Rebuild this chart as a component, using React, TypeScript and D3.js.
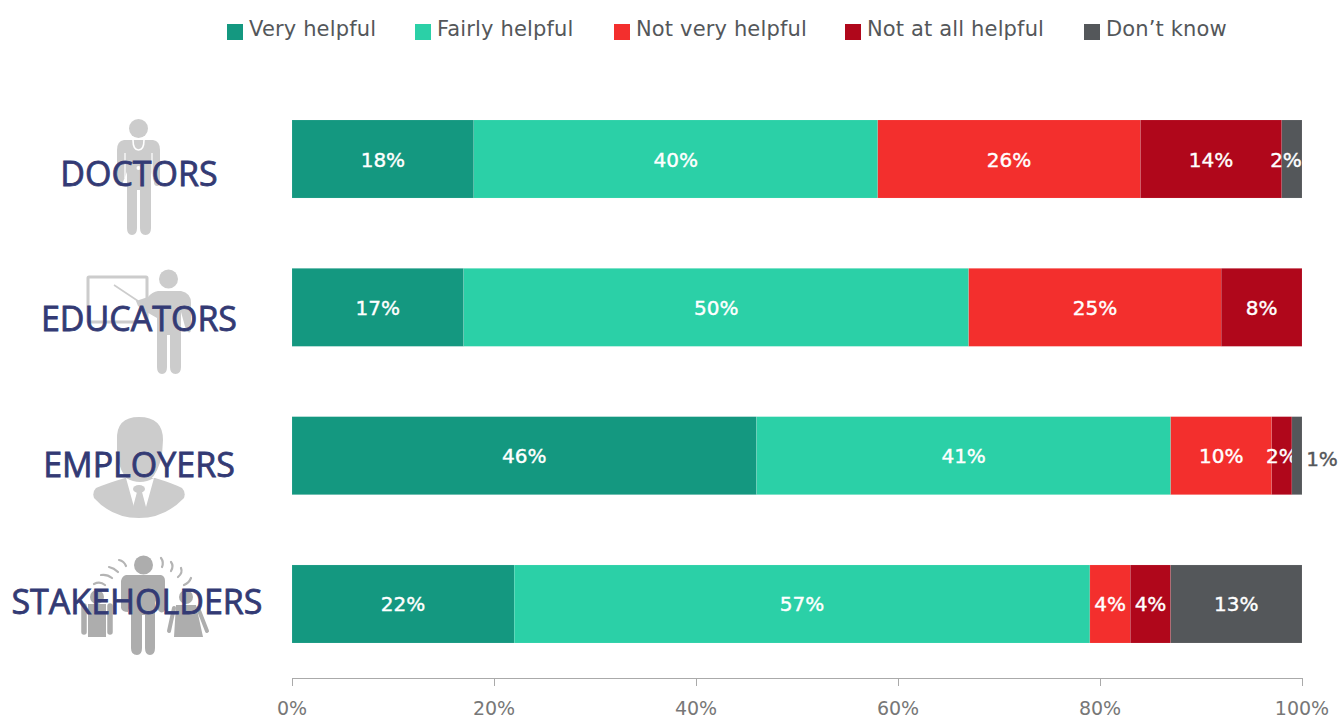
import React from "react";
import * as d3 from "d3";

const categories = ["DOCTORS", "EDUCATORS", "EMPLOYERS", "STAKEHOLDERS"];
const seriesNames = ["Very helpful", "Fairly helpful", "Not very helpful", "Not at all helpful", "Don\u2019t know"];
const veryHelpful = [18, 17, 46, 22];
const fairlyHelpful = [40, 50, 41, 57];
const notVeryHelpful = [26, 25, 10, 4];
const notAtAllHelpful = [14, 8, 2, 4];
const dontKnow = [2, 0, 1, 13];
const colors = ["#149880", "#2bd0a7", "#f32f2d", "#b0071b", "#54575a"];
const legendX = [227, 415, 614, 845, 1084];
const ticks = [0, 20, 40, 60, 80, 100];
const labelCenters = [139, 139, 139, 137];
const labelY = [186, 331, 477, 614];

const F = "'DejaVu Sans', sans-serif";
const G = "#cccccc";

function Doctor() {
  return (
    <g fill={G}>
      <circle cx={138.5} cy={128.5} r={9.5} />
      <path d="M124 140 L153 140 Q160 141 160 150 L160 182 Q160 186 157 186 Q154 186 154 182 L151 172 L151 228 Q151 235 145.500 235 Q140 235 140 228 L140 190 L137 190 L137 228 Q137 235 132 235 Q127 235 127 228 L127 172 L123 182 Q122 186 120 186 Q117 186 117 182 L117 150 Q117 141 124 140 Z" />
      <path d="M125 153 L125 178 M152 153 L152 178" stroke="#fff" strokeWidth={1.2} fill="none" />
      <path d="M133 140 Q133 150 138.500 150 Q144 150 144 140" fill="none" stroke="#fff" strokeWidth={1.6} />
      <circle cx={138.500} cy={168} r={2} fill="#fff" />
    </g>
  );
}
function Educator() {
  return (
    <g fill={G}>
      <rect x={88} y={277} width={59} height={45} rx={1} fill="none" stroke={G} strokeWidth={3} />
      <line x1={114} y1={285} x2={138} y2={301} stroke={G} strokeWidth={1.6} />
      <circle cx={168.500} cy={279} r={9.500} />
      <path d="M136 301 L148 297 Q152 292 158 291 L181 291 Q191 293 191 303 L191 330 Q190 335 186 330 L181 312 L181 367 Q181 374 175.500 374 Q170 374 170 367 L170 335 L167 335 L167 367 Q167 374 162 374 Q157 374 157 367 L157 318 L150 314 L138 306 Z" />
    </g>
  );
}
function Employer() {
  return (
    <g fill={G}>
      <path d="M117 440 Q116 417 139 417 Q163 417 163 440 L162 455 Q158 473 150 480 L128 480 Q120 472 117 455 Z" />
      <path d="M125 478 L155 478 Q172 483 182 488 Q186 492 184 498 Q165 518 139 518 Q112 518 94 498 Q92 492 96 488 Q108 483 125 478 Z" />
      <path d="M126 478 L134 507 L146 507 L154 478 Q140 486 126 478 Z" fill="#fff" />
      <ellipse cx={139} cy={489} rx={6} ry={4} />
      <path d="M137 492 L133 507 L146 507 L142 492 Z" />
    </g>
  );
}
function Stakeholder() {
  const arc = "#b4b4b4";
  return (
    <g fill="#adadad">
      <circle cx={143.500} cy={565} r={9.500} />
      <path d="M126 575 L161 575 Q165 576 165 581 L165 610 Q162 615 158 610 L155 600 L155 648 Q155 655 150 655 Q145 655 145 648 L145 615 L142 615 L142 648 Q142 655 137 655 Q131 655 131 648 L131 600 L128 612 Q122 612 121 608 L121 581 Q122 576 126 575 Z" />
      <circle cx={97} cy={597} r={7} />
      <path d="M88 604 L106 604 L106 637 L88 637 Z" />
      <path d="M84 606 L84 632 M110 606 L110 632" stroke="#adadad" strokeWidth={5.500} strokeLinecap="round" fill="none" />
      <circle cx={186} cy={597} r={7} />
      <path d="M176 605 L196 605 L203 637 L174 637 Z" />
      <path d="M174 608 L169 631 M198 608 L207 631" stroke="#adadad" strokeWidth={4} strokeLinecap="round" fill="none" />
      <g fill="none" stroke={arc} strokeWidth={2.200} strokeLinecap="round">
        <path d="M94 584 Q100 581 105 585" />
        <path d="M101 575 Q107 574 112 578" />
        <path d="M109 567 Q114 568 118 572" />
        <path d="M119 560 Q124 561 126 566" />
        <path d="M161 558 Q164 562 162 567" />
        <path d="M171 562 Q174 566 171 571" />
        <path d="M181 568 Q183 573 178 577" />
        <path d="M191 578 Q189 583 184 585" />
      </g>
    </g>
  );
}

export default function App() {
  const x = d3.scaleLinear().domain([0, 100]).range([292, 1302]);
  const y = d3.scaleBand<string>().domain(categories).range([120, 643]).paddingInner(0.474).paddingOuter(0);
  const series = [veryHelpful, fairlyHelpful, notVeryHelpful, notAtAllHelpful, dontKnow];
  const rows = categories.map((c, i) => {
    const row: Record<string, number | string> = { category: c };
    seriesNames.forEach((s, k) => (row[s] = series[k][i]));
    return row;
  });
  const stacked = d3.stack<any>().keys(seriesNames)(rows);
  const bh = y.bandwidth();
  const bandY = (c: string) => y(c)!;

  return (
    <svg width={1338} height={718} style={{ position: "absolute", left: 0, top: 0, display: "block" }}>
      <rect width={1338} height={718} fill="#fff" />
      {seriesNames.map((s, i) => (
        <g key={s}>
          <rect x={legendX[i]} y={24} width={16} height={16} fill={colors[i]} />
          <text x={legendX[i] + 22} y={36} fontFamily={F} fontSize={21} letterSpacing={0.15} fill="#54575a">{s}</text>
        </g>
      ))}
      <Doctor />
      <Educator />
      <Employer />
      <Stakeholder />
      {categories.map((c, i) => (
        <text key={c} x={labelCenters[i]} y={labelY[i]} textAnchor="middle" fontFamily="'Open Sans', sans-serif" fontSize={34} fill="#333a74" stroke="#333a74" strokeWidth={0.8}>{c}</text>
      ))}
      {stacked.map((layer, k) => (
        <g key={layer.key}>
          {layer.map((d, i) => {
            const value = d[1] - d[0];
            if (!value) return null;
            const c = categories[i];
            const outside = value === 1;
            const cx = Math.min((x(d[0]) + x(d[1])) / 2, x(100) - 16);
            return (
              <g key={c}>
                <rect x={x(d[0])} y={bandY(c)} width={x(d[1]) - x(d[0])} height={bh} fill={colors[k]} stroke="#fff" strokeOpacity={0.2} strokeWidth={0.5} />
                <text x={outside ? x(d[1]) + 20 : cx} y={bandY(c) + bh / 2 + (outside ? 10.5 : 7.5)} textAnchor="middle" fontFamily={F} fontSize={20} stroke={outside ? "#54575a" : "#fff"} strokeWidth={0.4} fill={outside ? "#54575a" : "#fff"}>{value}%</text>
              </g>
            );
          })}
        </g>
      ))}
      <line x1={x(0)} x2={x(100)} y1={678.500} y2={678.500} stroke="#aaaaaa" />
      {ticks.map((t) => (
        <g key={t}>
          <line x1={x(t) + 0.5} x2={x(t) + 0.5} y1={678} y2={686} stroke="#aaaaaa" />
          <text x={x(t)} y={715} textAnchor="middle" fontFamily={F} fontSize={19} fill="#777">{t}%</text>
        </g>
      ))}
    </svg>
  );
}
